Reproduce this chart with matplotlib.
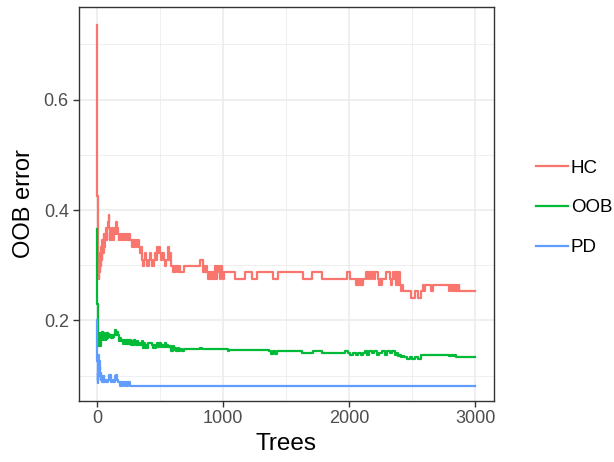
import matplotlib

matplotlib.use("Agg")

import matplotlib.pyplot as plt
from matplotlib.ticker import FixedLocator

plt.rcParams["font.family"] = ["Liberation Sans", "DejaVu Sans"]

# OOB error by number of trees as (trees, error) step points
hc_points = [
    (1, .735), (2, .471), (3, .460), (4, .425), (5, .402), (6, .368), (7, .345),
    (8, .322), (9, .299), (10, .276), (12, .299), (14, .276), (17, .287),
    (20, .310), (23, .287), (27, .322), (31, .299), (35, .333), (40, .310),
    (44, .345), (49, .322), (53, .356), (58, .333), (63, .356), (68, .345),
    (73, .368), (78, .345), (84, .368), (89, .379), (93, .391), (97, .368),
    (102, .345), (107, .356), (112, .345), (118, .368), (124, .356), (130, .345),
    (136, .356), (142, .368), (148, .356), (154, .379), (160, .368), (166, .356),
    (172, .345), (178, .356), (185, .345), (192, .356), (200, .345), (208, .356),
    (216, .345), (224, .356), (232, .345), (240, .356), (250, .345), (258, .356),
    (266, .345), (275, .333), (285, .345), (295, .333), (305, .345), (315, .333),
    (325, .345), (335, .333), (345, .322), (352, .333), (360, .310), (368, .299),
    (376, .310), (384, .322), (392, .310), (400, .299), (410, .310), (420, .322),
    (430, .310), (440, .299), (450, .310), (460, .322), (470, .310), (478, .333),
    (486, .322), (494, .333), (502, .322), (510, .310), (520, .322), (530, .310),
    (540, .299), (550, .310), (560, .333), (568, .322), (575, .310), (582, .322),
    (590, .299), (600, .287), (610, .299), (620, .287), (630, .299), (640, .287),
    (650, .299), (660, .287), (687, .299), (819, .310), (845, .287), (852, .299),
    (860, .287), (866, .299), (872, .287), (880, .276), (888, .287), (896, .276),
    (904, .287), (912, .276), (920, .287), (928, .276), (937, .299), (945, .276),
    (953, .299), (961, .287), (969, .299), (977, .276), (985, .299), (993, .287),
    (1001, .276), (1009, .287), (1096, .276), (1175, .287), (1228, .276),
    (1268, .287), (1399, .276), (1439, .287), (1637, .276), (1703, .287),
    (1782, .276), (1980, .287), (2004, .276), (2052, .264), (2060, .276),
    (2068, .264), (2076, .276), (2084, .264), (2092, .276), (2100, .264),
    (2110, .276), (2136, .287), (2150, .276), (2158, .287), (2172, .276),
    (2180, .287), (2194, .276), (2202, .287), (2228, .276), (2236, .264),
    (2244, .276), (2252, .264), (2260, .276), (2294, .287), (2320, .276),
    (2328, .264), (2336, .276), (2347, .287), (2355, .276), (2363, .287),
    (2373, .264), (2381, .287), (2389, .264), (2397, .287), (2405, .264),
    (2413, .253), (2421, .264), (2429, .253), (2492, .241), (2518, .253),
    (2545, .241), (2571, .253), (2584, .264), (2592, .253), (2600, .264),
    (2650, .253), (2663, .264), (2795, .253), (2803, .264), (2811, .253),
    (2819, .264), (2827, .253), (2835, .264), (2843, .253), (2851, .264),
    (2859, .253), (2867, .264), (2874, .253), (3000, .253),
]

oob_points = [
    (1, .365), (2, .300), (3, .262), (4, .230), (5, .205), (6, .190), (8, .175),
    (10, .153), (13, .165), (16, .177), (19, .160), (22, .170), (26, .153),
    (30, .165), (34, .177), (38, .168), (42, .180), (46, .165), (50, .176),
    (55, .168), (60, .177), (65, .165), (70, .174), (75, .167), (80, .177),
    (86, .168), (92, .176), (98, .170), (104, .174), (110, .168), (116, .174),
    (120, .168), (126, .174), (132, .170), (138, .174), (146, .182), (152, .174),
    (158, .180), (164, .174), (172, .171), (178, .162), (184, .168), (190, .162),
    (199, .165), (207, .158), (215, .165), (223, .158), (231, .165), (240, .158),
    (248, .165), (256, .158), (264, .165), (272, .156), (280, .162), (288, .156),
    (296, .165), (304, .162), (312, .156), (320, .162), (328, .156), (336, .159),
    (344, .156), (357, .162), (365, .150), (373, .159), (381, .150), (389, .156),
    (397, .150), (409, .159), (436, .156), (444, .150), (452, .156), (460, .150),
    (468, .155), (476, .159), (486, .152), (496, .159), (506, .152), (516, .156),
    (526, .152), (536, .159), (546, .152), (556, .156), (566, .152), (581, .153),
    (591, .145), (601, .153), (611, .147), (621, .151), (631, .145), (641, .150),
    (651, .145), (661, .149), (671, .145), (687, .148), (814, .150), (830, .148),
    (1036, .145), (1050, .147), (1364, .144), (1380, .140), (1396, .144),
    (1412, .140), (1428, .144), (1625, .141), (1717, .144), (1783, .141),
    (1966, .144), (1992, .141), (2010, .138), (2030, .141), (2050, .138),
    (2070, .141), (2090, .138), (2110, .141), (2123, .144), (2140, .138),
    (2160, .144), (2180, .141), (2200, .144), (2220, .138), (2240, .141),
    (2260, .144), (2280, .138), (2300, .144), (2320, .141), (2340, .144),
    (2360, .138), (2372, .141), (2385, .135), (2398, .138), (2411, .133),
    (2424, .135), (2437, .133), (2460, .130), (2480, .133), (2500, .130),
    (2520, .133), (2545, .130), (2568, .138), (2791, .135), (2805, .138),
    (2819, .135), (2833, .138), (2843, .1345), (3000, .1345),
]

pd_points = [
    (1, .200), (2, .170), (3, .148), (4, .126), (5, .104), (6, .087), (8, .104),
    (10, .093), (12, .137), (15, .121), (18, .126), (21, .110), (24, .115),
    (27, .099), (30, .104), (34, .093), (38, .099), (42, .088), (46, .093),
    (50, .088), (55, .099), (60, .093), (65, .088), (70, .093), (75, .088),
    (90, .093), (100, .101), (110, .088), (120, .093), (130, .088), (140, .099),
    (150, .102), (160, .093), (170, .088), (180, .082), (190, .088), (200, .082),
    (210, .088), (220, .082), (230, .088), (240, .082), (250, .088), (264, .082),
    (3000, .082),
]

series_names = ["HC", "OOB", "PD"]
series_points = [hc_points, oob_points, pd_points]
colors = ["#F8766D", "#00BA38", "#619CFF"]

x_ticks = [0, 1000, 2000, 3000]
y_ticks = [0.2, 0.4, 0.6]

fig = plt.figure(figsize=(6.14, 4.62), dpi=100)
ax = fig.add_axes([0.128, 0.133, 0.677, 0.851])

for name, points, color in zip(series_names, series_points, colors):
    trees = [p[0] for p in points]
    err = [p[1] for p in points]
    ax.step(trees, err, where="post", color=color, linewidth=1.6, label=name)

ax.set_xlim(-145, 3150)
ax.set_ylim(0.055, 0.767)

ax.xaxis.set_major_locator(FixedLocator(x_ticks))
ax.xaxis.set_minor_locator(FixedLocator([500, 1500, 2500]))
ax.yaxis.set_major_locator(FixedLocator(y_ticks))
ax.yaxis.set_minor_locator(FixedLocator([0.1, 0.3, 0.5, 0.7]))
ax.set_yticklabels([f"{v:.1f}" for v in y_ticks])

ax.grid(True, which="major", color="#EBEBEB", linewidth=1.1)
ax.grid(True, which="minor", color="#EBEBEB", linewidth=0.55)
ax.set_axisbelow(True)
ax.tick_params(which="major", direction="out", length=4, width=1.0,
               color="#333333", labelcolor="#4D4D4D", labelsize=13, pad=3)
ax.tick_params(which="minor", length=0)
for spine in ax.spines.values():
    spine.set_color("#333333")
    spine.set_linewidth(1.0)

ax.set_xlabel("Trees", fontsize=17.5, color="black", labelpad=4)
ax.set_ylabel("OOB error", fontsize=17, color="black", labelpad=6)

fig.legend(loc="center left", bbox_to_anchor=(0.873, 0.55), frameon=False,
           fontsize=13.5, handlelength=1.7, handletextpad=0.15, labelspacing=1.2,
           borderaxespad=0, borderpad=0)

fig.savefig("out.png", dpi=100)
plt.close(fig)
